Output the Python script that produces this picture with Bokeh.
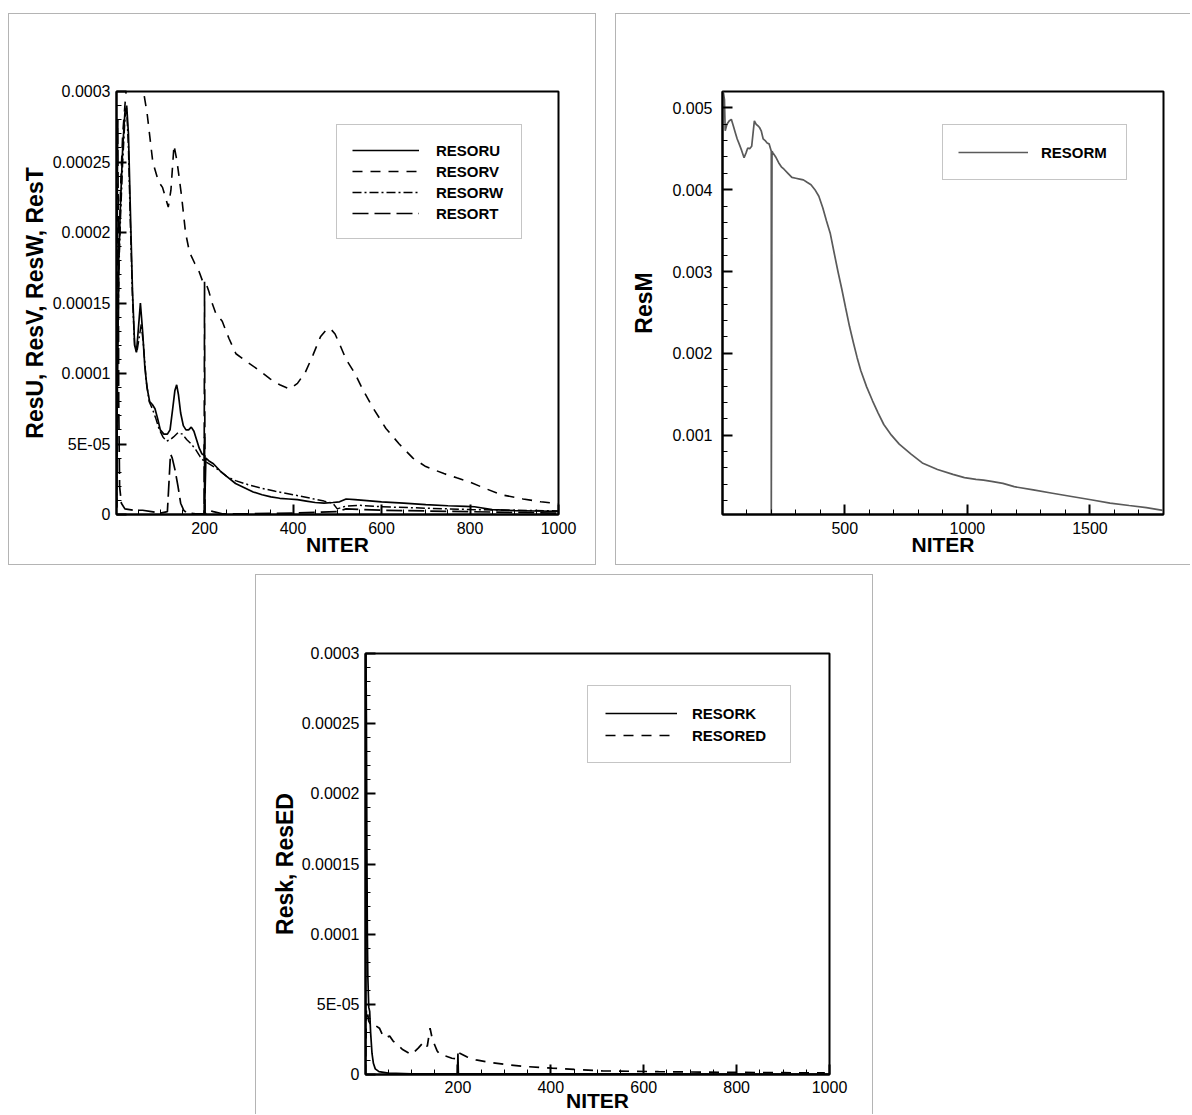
from bokeh.plotting import figure
from bokeh.models import Range1d, FixedTicker, Legend, LegendItem, Spacer
from bokeh.layouts import column, row
from bokeh.embed import file_html
from bokeh.resources import INLINE

# ---------------- Panel 1 data (NITER vs residuals, values x1e-5) ----------------
u_x = [1, 3, 6, 10, 15, 20, 24, 28, 32, 37, 42, 46, 50, 55, 60, 65, 70, 76, 82, 88, 94, 100,
       108, 116, 122, 128, 133, 137, 141, 146, 152, 158, 164, 170, 176, 182, 188, 194, 199,
       200, 200, 203, 210, 220, 235, 250, 270, 290, 310, 330, 350, 370, 390, 410, 430, 450,
       470, 490, 505, 520, 540, 560, 600, 650, 700, 750, 790, 810, 850, 900, 950, 1000]
u_y = [0.5, 10, 18, 22, 26, 28.5, 29, 27, 22, 16, 12, 11.5, 13, 15, 13, 10.5, 9, 8, 7.8, 7.5, 6.8,
       6.0, 5.7, 5.7, 6.0, 7.5, 8.8, 9.2, 8.5, 7.2, 6.3, 6.0, 6.0, 6.2, 5.9, 5.3, 4.7, 4.3, 4.2,
       5.5, 0.0, 4.0, 3.8, 3.6, 3.1, 2.7, 2.2, 1.9, 1.6, 1.4, 1.25, 1.15, 1.1, 1.05, 0.95, 0.85,
       0.8, 0.85, 0.9, 1.1, 1.05, 1.0, 0.9, 0.8, 0.7, 0.62, 0.58, 0.55, 0.35, 0.28, 0.25, 0.22]

v_x = [1, 3, 6, 10, 15, 20, 25, 30, 40, 50, 62, 70, 83, 96, 105, 118, 124, 131, 138, 148, 157,
       166, 178, 188, 195, 202, 210, 217, 225, 240, 255, 271, 297, 320, 349, 370, 392, 410,
       428, 445, 462, 475, 484, 495, 505, 520, 540, 557, 580, 610, 640, 671, 700, 741, 770,
       800, 830, 871, 920, 960, 1000]
v_y = [0.5, 9, 17, 23, 27, 29, 31, 33, 33.5, 32, 30, 28.5, 25, 23.6, 23.2, 21.8, 23, 26.2, 25,
       22.6, 20, 18.6, 17.8, 17.2, 16.6, 16.5, 15.8, 15.0, 14.3, 13.7, 12.5, 11.4, 10.8, 10.3,
       9.6, 9.2, 8.9, 9.3, 10.1, 11.3, 12.6, 13.1, 13.2, 12.8, 12.1, 11.0, 10.0, 8.9, 7.6, 6.1,
       5.0, 4.0, 3.4, 2.9, 2.6, 2.3, 1.9, 1.4, 1.1, 0.9, 0.78]

w_x = [1, 3, 6, 10, 15, 20, 24, 28, 32, 37, 42, 47, 52, 57, 62, 68, 75, 82, 90, 98, 106, 114,
       122, 130, 140, 150, 160, 170, 180, 190, 198, 205, 215, 230, 250, 270, 300, 330, 360,
       400, 440, 470, 490, 500, 520, 550, 600, 700, 800, 900, 1000]
w_y = [0.5, 9, 17, 21, 25, 28, 28.8, 26, 21, 15.5, 12, 11.5, 12.5, 13.5, 12, 9.5, 8, 7.5, 6.8,
       6.0, 5.5, 5.2, 5.3, 5.5, 5.8, 5.7, 5.3, 5.0, 4.6, 4.1, 3.8, 3.7, 3.5, 3.2, 2.7, 2.4, 2.1,
       1.85, 1.65, 1.4, 1.15, 0.95, 0.8, 0.4, 0.6, 0.65, 0.55, 0.45, 0.35, 0.3, 0.25]

t_x = [1, 2, 3, 4, 5, 6, 8, 12, 20, 40, 60, 80, 100, 116, 120, 123, 127, 133, 140, 146,
       153, 160, 180, 199, 200, 201, 210, 220, 240, 300, 400, 500, 520, 600, 700, 800, 900, 1000]
t_y = [0.5, 12, 24, 28, 20, 8, 2, 0.8, 0.4, 0.3, 0.3, 0.2, 0.1, 0.2, 2.5, 4.3, 4.0, 3.2, 2.0,
       0.8, 0.3, 0.1, 0.05, 0.05, 16.5, 0.05, 0.3, 0.2, 0.05, 0.05, 0.1, 0.2, 0.4, 0.3, 0.25,
       0.2, 0.15, 0.1]

p1_yticks = [0, 5e-5, 1e-4, 1.5e-4, 2e-4, 2.5e-4, 3e-4]
p1_ylabels = ["0", "5E-05", "0.0001", "0.00015", "0.0002", "0.00025", "0.0003"]
p1_xticks = [200, 400, 600, 800, 1000]

# ---------------- Panel 2 data (RESORM, values x1e-3) ----------------
m_x = [1, 5, 9, 12, 19, 28, 37, 45, 53, 61, 69, 79, 89, 97, 104, 112, 120, 126, 131, 138, 146,
       152, 159, 167, 175, 183, 191, 197, 200, 200, 203, 207, 218, 230, 241, 252, 268, 284, 300,
       316, 331, 346, 362, 378, 394, 410, 425, 441, 457, 472, 488, 503, 519, 535, 550, 565, 589,
       613, 636, 659, 690, 722, 769, 816, 878, 941, 988, 1035, 1066, 1098, 1145, 1191, 1269,
       1347, 1425, 1504, 1582, 1660, 1730, 1797]
m_y = [5.2, 5.18, 5.1, 4.72, 4.8, 4.84, 4.86, 4.78, 4.7, 4.62, 4.56, 4.48, 4.39, 4.45, 4.51, 4.5,
       4.53, 4.7, 4.84, 4.8, 4.78, 4.76, 4.72, 4.62, 4.6, 4.57, 4.56, 4.5, 4.47, 0.0, 4.47, 4.45,
       4.4, 4.33, 4.28, 4.25, 4.2, 4.15, 4.14, 4.13, 4.12, 4.09, 4.06, 4.0, 3.92, 3.78, 3.62,
       3.46, 3.22, 3.0, 2.78, 2.56, 2.33, 2.13, 1.95, 1.79, 1.59, 1.42, 1.27, 1.13, 1.0, 0.89,
       0.77, 0.66, 0.58, 0.52, 0.48, 0.46, 0.45, 0.435, 0.41, 0.37, 0.33, 0.29, 0.25, 0.21,
       0.17, 0.14, 0.115, 0.08]

p2_yticks = [0.001, 0.002, 0.003, 0.004, 0.005]
p2_ylabels = ["0.001", "0.002", "0.003", "0.004", "0.005"]
p2_xticks = [500, 1000, 1500]

# ---------------- Panel 3 data (RESORK / RESORED, values x1e-5) ----------------
k_x = [1, 2, 3, 4, 5, 6, 8, 10, 12, 15, 18, 22, 30, 50, 100, 150, 199, 200, 201, 250, 400,
       600, 800, 1000]
k_y = [0, 30, 25, 16, 10, 7, 4.8, 4.5, 3, 1.5, 0.8, 0.4, 0.2, 0.1, 0.05, 0.05, 0.05, 1.5, 0.05,
       0.05, 0.05, 0.05, 0.03, 0.02]

ed_x = [1, 3, 5, 8, 14, 22, 31, 38, 44, 53, 60, 66, 80, 100, 115, 127, 134, 140, 145, 150, 155,
        161, 175, 187, 199, 204, 220, 239, 270, 308, 350, 403, 450, 511, 570, 632, 700, 800,
        900, 990]
ed_y = [0, 4.7, 4.5, 3.8, 3.42, 3.5, 3.3, 2.8, 2.6, 2.75, 2.4, 2.23, 1.8, 1.42, 1.9, 2.35, 2.0,
        3.3, 2.5, 2.1, 1.7, 1.42, 1.3, 1.16, 1.1, 1.52, 1.25, 1.04, 0.85, 0.69, 0.56, 0.45,
        0.36, 0.26, 0.23, 0.2, 0.18, 0.15, 0.13, 0.11]

p3_yticks = p1_yticks
p3_ylabels = p1_ylabels
p3_xticks = [200, 400, 600, 800, 1000]

FONT = "Liberation Sans"


def scale(vals, f):
    return [v * f for v in vals]


def style_axes(p, xticks, xminor, yticks, yminor, ylabels, xlabel, ylabel,
               y_lab_standoff, y_axis_standoff, x_lab_standoff, x_axis_standoff):
    p.xaxis.ticker = FixedTicker(ticks=xticks, minor_ticks=xminor)
    p.yaxis.ticker = FixedTicker(ticks=yticks, minor_ticks=yminor)
    p.yaxis.major_label_overrides = dict(zip(yticks, ylabels))
    p.xaxis.major_label_overrides = {t: str(t) for t in xticks}
    for ax in (p.xaxis, p.yaxis):
        ax.axis_line_width = 2
        ax.axis_line_color = "black"
        ax.major_tick_in = 10
        ax.major_tick_out = 0
        ax.minor_tick_in = 5
        ax.minor_tick_out = 0
        ax.major_tick_line_width = 2
        ax.minor_tick_line_width = 1
        ax.major_tick_line_color = "black"
        ax.minor_tick_line_color = "black"
        ax.major_label_text_font = FONT
        ax.major_label_text_font_size = "16px"
        ax.major_label_text_color = "black"
        ax.axis_label_text_font = FONT
        ax.axis_label_text_font_style = "bold"
        ax.axis_label_text_color = "black"
    p.xaxis.axis_label_text_font_size = "21px"
    p.yaxis.axis_label_text_font_size = "23px"
    p.xaxis.axis_label = xlabel
    p.yaxis.axis_label = ylabel
    p.xaxis.major_label_standoff = x_lab_standoff
    p.xaxis.axis_label_standoff = x_axis_standoff
    p.yaxis.major_label_standoff = y_lab_standoff
    p.yaxis.axis_label_standoff = y_axis_standoff


def base_fig(w, h, xr, yr, mb, styles):
    p = figure(width=w, height=h, x_range=Range1d(*xr), y_range=Range1d(*yr),
               output_backend="svg", toolbar_location=None,
               min_border_left=mb[0], min_border_right=mb[1],
               min_border_top=mb[2], min_border_bottom=mb[3],
               styles=styles)
    p.grid.visible = False
    p.outline_line_color = "black"
    p.outline_line_width = 2
    p.outline_line_alpha = 1
    p.background_fill_color = "white"
    p.border_fill_color = "white"
    return p


def make_legend(items, loc, pad, glyph_w, standoff, label_w, label_h, spacing):
    lg = Legend(items=items, location=loc)
    lg.padding = pad
    lg.margin = 0
    lg.spacing = spacing
    lg.glyph_width = glyph_w
    lg.glyph_height = label_h
    lg.label_height = label_h
    lg.label_width = label_w
    lg.label_standoff = standoff
    lg.label_text_font = FONT
    lg.label_text_font_size = "15px"
    lg.label_text_font_style = "bold"
    lg.label_text_color = "black"
    lg.border_line_color = "#8c8c8c"
    lg.border_line_width = 1
    lg.background_fill_color = "white"
    lg.background_fill_alpha = 1
    return lg


GRAY = "#b4b4b4"

# ---------------- Panel 1 ----------------
p1 = base_fig(588, 552, (1, 1000), (0, 3e-4), (107, 39, 77, 52),
              {"border": f"1px solid {GRAY}", "box-sizing": "border-box"})
r_u = p1.line(u_x, scale(u_y, 1e-5), line_color="black", line_width=1.7)
r_v = p1.line(v_x, scale(v_y, 1e-5), line_color="black", line_width=1.6, line_dash="10 8")
r_w = p1.line(w_x, scale(w_y, 1e-5), line_color="black", line_width=1.5, line_dash="9 3 2 3")
r_t = p1.line(t_x, scale(t_y, 1e-5), line_color="black", line_width=1.7, line_dash="16 6")
style_axes(p1, p1_xticks, list(range(50, 1000, 50)), p1_yticks,
           [i * 1e-5 for i in range(1, 30)], p1_ylabels, "NITER", "ResU, ResV, ResW, ResT",
           6, 2, 7, -4)
p1.add_layout(make_legend([LegendItem(label="RESORU", renderers=[r_u]),
                           LegendItem(label="RESORV", renderers=[r_v]),
                           LegendItem(label="RESORW", renderers=[r_w]),
                           LegendItem(label="RESORT", renderers=[r_t])],
                          (220, 275), 15, 67, 17, 70, 20, 1))

# ---------------- Panel 2 ----------------
p2 = base_fig(575, 552, (1, 1800), (0.00003, 0.0052), (106, 28, 77, 52),
              {"border-left": f"1px solid {GRAY}", "border-top": f"1px solid {GRAY}",
               "border-bottom": f"1px solid {GRAY}", "box-sizing": "border-box"})
r_m = p2.line(m_x, scale(m_y, 1e-3), line_color="#5a5a5a", line_width=1.7)
style_axes(p2, p2_xticks, list(range(100, 1800, 100)), p2_yticks,
           [i * 2e-4 for i in range(1, 26)], p2_ylabels, "NITER", "ResM", 10, 12, 7, -4)
p2.add_layout(make_legend([LegendItem(label="RESORM", renderers=[r_m])],
                          (220, 334), 15, 70, 13, 70, 24, 0))

# ---------------- Panel 3 ----------------
p3 = base_fig(618, 540, (1, 1000), (0, 3e-4), (109, 45, 78, 41),
              {"border-left": f"1px solid {GRAY}", "border-top": f"1px solid {GRAY}",
               "border-right": f"1px solid {GRAY}", "box-sizing": "border-box"})
r_k = p3.line(k_x, scale(k_y, 1e-5), line_color="black", line_width=1.7)
r_ed = p3.line(ed_x, scale(ed_y, 1e-5), line_color="black", line_width=1.7, line_dash="10 8")
style_axes(p3, p3_xticks, list(range(50, 1000, 50)), p3_yticks,
           [i * 1e-5 for i in range(1, 30)], p3_ylabels, "NITER", "Resk, ResED", 6, 1, 6, -7)
p3.add_layout(make_legend([LegendItem(label="RESORK", renderers=[r_k]),
                           LegendItem(label="RESORED", renderers=[r_ed])],
                          (222, 311), 17, 72, 15, 81, 20, 2))

layout = column(Spacer(height=13),
                row(Spacer(width=8), p1, Spacer(width=19), p2),
                Spacer(height=9),
                row(Spacer(width=255), p3))

open("out.html", "w").write(file_html(layout, INLINE))
